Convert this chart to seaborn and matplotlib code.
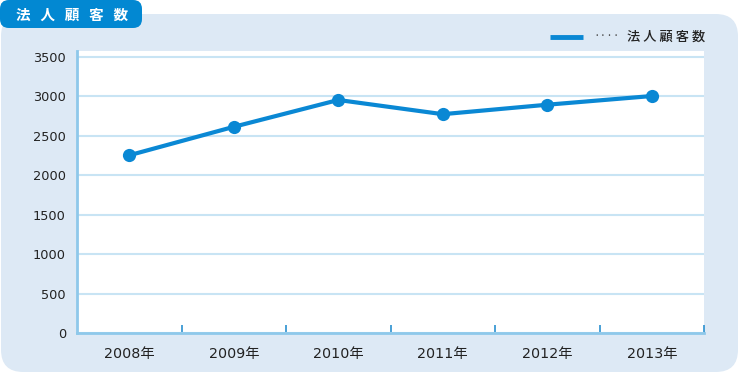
import matplotlib
matplotlib.use("Agg")
import matplotlib.pyplot as plt
import seaborn as sns
import pandas as pd
from matplotlib.patches import FancyBboxPatch

years = ["2008年", "2009年", "2010年", "2011年", "2012年", "2013年"]
customers = [2250, 2610, 2950, 2770, 2890, 3000]
yticks = [0, 500, 1000, 1500, 2000, 2500, 3000, 3500]
series_name = "法人顧客数"

sns.set_theme(style="white")
plt.rcParams['font.family'] = ['Noto Sans CJK JP', 'DejaVu Sans']
tick_family = ['DejaVu Sans', 'Noto Sans CJK JP']

W, H = 740, 377
fig = plt.figure(figsize=(W / 100, H / 100), dpi=100)
fig.patch.set_facecolor("white")

def fx(px):
    return px / W

def fy(py):
    return 1 - py / H

# background panel
panel = FancyBboxPatch((fx(1), fy(372)), fx(737), (358) / H,
                       boxstyle="round,pad=0,rounding_size=0.03",
                       transform=fig.transFigure, facecolor="#dde9f5",
                       edgecolor="none", zorder=-10, mutation_aspect=W / H)
fig.patches.append(panel)

# title tab
tab = FancyBboxPatch((fx(0), fy(28)), fx(142), 28 / H,
                     boxstyle="round,pad=0,rounding_size=0.012",
                     transform=fig.transFigure, facecolor="#0288d2",
                     edgecolor="none", zorder=-5, mutation_aspect=W / H)
fig.patches.append(tab)
fig.text(fx(72), fy(14.5), "   ".join(series_name), color="white", fontsize=10.5,
         fontweight="bold", ha="center", va="center")

ax = fig.add_axes([fx(77), fy(333), fx(704 - 77), (333 - 51) / H])
ax.set_zorder(5)
ax.set_facecolor("white")

df = pd.DataFrame({"year": years, "value": customers})
line_color = "#0a88d4"
sns.lineplot(data=df, x="year", y="value", ax=ax, color=line_color, linewidth=3,
             marker="o", markersize=9.5, markeredgewidth=0, sort=False)

ax.set_xlim(-0.5, len(years) - 0.5)
ax.set_ylim(0, 3570)
ax.set_yticks(yticks)
ax.set_yticklabels([str(v) for v in yticks], family=tick_family, fontsize=9.3,
                   color="#222222")
ax.set_xticks(range(len(years)))
ax.set_xticklabels(years, family=tick_family, fontsize=10.3, color="#222222")
ax.set_xlabel("")
ax.set_ylabel("")

ax.grid(axis="y", color="#c8e4f4", linewidth=1.5)
ax.set_axisbelow(True)

for s in ["top", "right"]:
    ax.spines[s].set_visible(False)
for s in ["left", "bottom"]:
    ax.spines[s].set_color("#8ec8ea")
    ax.spines[s].set_linewidth(2)

ax.tick_params(axis="y", length=0, pad=8)
ax.tick_params(axis="x", which="major", length=0, pad=10)
ax.set_xticks([i + 0.5 for i in range(len(years))], minor=True)
ax.tick_params(axis="x", which="minor", bottom=True, direction="in", length=6,
               width=1.2, color="#2a90d0")

# legend
fig.lines.append(plt.Line2D([fx(550), fx(583)], [fy(37), fy(37)],
                            transform=fig.transFigure, color=line_color,
                            linewidth=3.5, solid_capstyle="butt"))
fig.text(fx(594), fy(37), "····", color="#444444", fontsize=8.5, ha="left", va="center")
fig.text(fx(627), fy(37), " ".join(series_name), color="#222222", fontsize=9.5,
         fontweight="medium", ha="left", va="center")

fig.savefig("out.png", dpi=100, facecolor="white")
